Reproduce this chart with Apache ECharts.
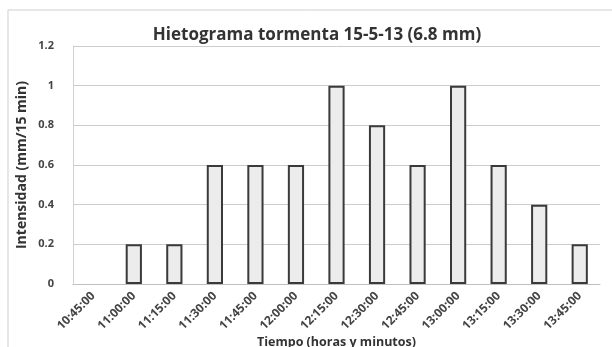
<!DOCTYPE html>
<html>
<head>
<meta charset="utf-8">
<script src="https://cdn.jsdelivr.net/npm/echarts@6/dist/echarts.min.js"></script>
<style>
  html, body { margin: 0; padding: 0; background: #ffffff; }
  #chart { width: 612px; height: 347px; }
</style>
</head>
<body>
<div id="chart"></div>
<script>
// Storm hyetograph: rainfall intensity per 15-minute interval
const categories = ['10:45:00', '11:00:00', '11:15:00', '11:30:00', '11:45:00', '12:00:00', '12:15:00',
                    '12:30:00', '12:45:00', '13:00:00', '13:15:00', '13:30:00', '13:45:00'];
const intensity = [0, 0.2, 0.2, 0.6, 0.6, 0.6, 1, 0.8, 0.6, 1, 0.6, 0.4, 0.2];
const yTicks = { min: 0, max: 1.2, interval: 0.2 };

const titleText = 'Hietograma tormenta 15-5-13 (6.8 mm)';
const yName = 'Intensidad (mm/15 min)';
const xName = 'Tiempo (horas y minutos)';

const font = '"Open Sans", "Liberation Sans", sans-serif';
const chart = echarts.init(document.getElementById('chart'), null, { renderer: 'canvas' });

// zero-height bars are left undrawn (no outline stub on the axis)
const barData = intensity.map(v => v === 0
  ? { value: v, itemStyle: { borderWidth: 0, color: 'transparent' } }
  : v);

chart.setOption({
  backgroundColor: '#ffffff',
  animation: false,
  graphic: [{
    type: 'rect',
    shape: { x: 8, y: 10, width: 640, height: 360 },
    style: { fill: 'none', stroke: '#cfcfcf', lineWidth: 1 },
    silent: true
  }],
  title: {
    text: titleText,
    left: 312,
    textAlign: 'center',
    top: 22,
    textStyle: { fontFamily: font, fontSize: 17, fontWeight: 'bold', color: '#333333' }
  },
  grid: { left: 73, right: 12, top: 46, bottom: 63, containLabel: false, outerBoundsMode: 'none' },
  xAxis: {
    type: 'category',
    data: categories,
    name: xName,
    nameLocation: 'middle',
    nameGap: 52,
    nameMoveOverlap: false,
    nameTextStyle: { fontFamily: font, fontSize: 12.5, fontWeight: 'bold', color: '#333333' },
    axisLine: { lineStyle: { color: '#bfbfbf', width: 1 } },
    axisTick: { show: false },
    axisLabel: {
      interval: 0,
      rotate: 45,
      margin: 10,
      fontFamily: font,
      fontSize: 12,
      fontWeight: 'bold',
      color: '#444444'
    }
  },
  yAxis: {
    type: 'value',
    min: yTicks.min,
    max: yTicks.max,
    interval: yTicks.interval,
    name: yName,
    nameLocation: 'middle',
    nameGap: 44,
    nameMoveOverlap: false,
    nameTextStyle: { fontFamily: font, fontSize: 14, fontWeight: 'bold', color: '#333333' },
    axisLine: { show: true, lineStyle: { color: '#d0d0d0' } },
    axisTick: { show: false },
    splitLine: { lineStyle: { color: '#cccccc', width: 1 } },
    axisLabel: {
      margin: 19,
      fontFamily: font,
      fontSize: 11,
      fontWeight: 'bold',
      color: '#444444',
      formatter: v => String(Math.round(v * 10) / 10)
    }
  },
  series: [{
    type: 'bar',
    data: barData,
    barWidth: '40%',
    itemStyle: { color: '#ececec', borderColor: '#3a3a3a', borderWidth: 2 }
  }]
});
</script>
</body>
</html>
